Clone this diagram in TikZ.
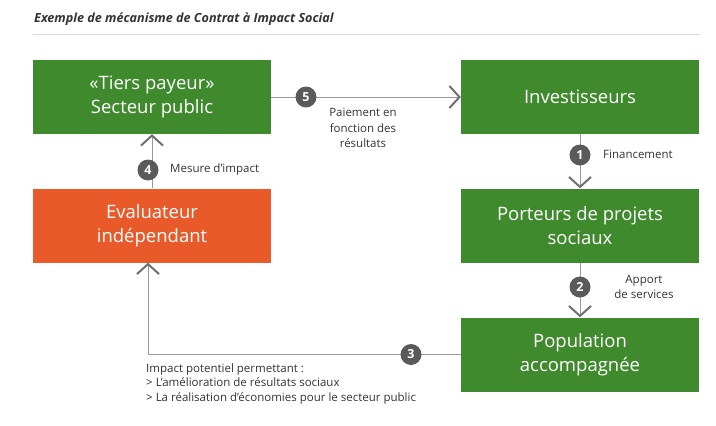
\documentclass[tikz,border=0pt]{standalone}
\usepackage{fontspec}
\setmainfont{Open Sans}
\usetikzlibrary{arrows.meta,positioning}
\definecolor{boxgreen}{HTML}{3F8A2C}
\definecolor{boxorange}{HTML}{E85A2A}
\definecolor{linegray}{HTML}{9A9A9A}
\definecolor{tipgray}{HTML}{707070}
\definecolor{circgray}{HTML}{5A5A5A}
\definecolor{txtgray}{HTML}{333333}
\tikzset{
  stepbox/.style={minimum width=238pt,minimum height=74pt,inner sep=0pt,align=center,
    text=white,font=\fontsize{18.5}{24}\selectfont},
  greenbox/.style={stepbox,fill=boxgreen},
  orangebox/.style={stepbox,fill=boxorange},
  conn/.style={draw=linegray,line width=1pt,
    -{Straight Barb[length=10pt,width=22pt,line width=2pt,color=tipgray]}},
  num/.style={circle,fill=circgray,text=white,inner sep=0pt,minimum size=21pt,
    font=\fontsize{12.5}{12}\selectfont\bfseries},
  lab/.style={text=txtgray,font=\fontsize{11.5}{15.5}\selectfont,inner sep=0pt},
}
\begin{document}
\begin{tikzpicture}[x=1pt,y=-1pt]
\useasboundingbox (0,0) rectangle (716,426);
\node[anchor=base west,text=txtgray,inner sep=0pt,font=\fontsize{12.6}{14}\selectfont\itshape\bfseries] (title) at (34,22) {Exemple de mécanisme de Contrat à Impact Social};
\draw[draw=black!15,line width=0.8pt] (33,34) coordinate (l1) -- (700,34) coordinate (l2);

\node[greenbox] (tiers) at (152,97) {«Tiers payeur»\\Secteur public};
\node[orangebox] (eval) at (152,225.5) {Evaluateur\\indépendant};
\node[greenbox] (inv) at (580,97) {Investisseurs};
\node[greenbox] (port) at (580,225.5) {Porteurs de projets\\sociaux};
\node[greenbox] (pop) at (580,354.5) {Population\\accompagnée};

% 5
\draw[conn] (tiers.east) -- (inv.west);
\node[num] (n5) at (306,97) {5};
\node[lab,align=center,anchor=north] (l5) at (363,108) {Paiement en\\fonction des\\résultats};
% 1
\draw[conn] (inv.south) -- (port.north);
\node[num] (n1) at (580,155) {1};
\node[lab,anchor=west] (l1t) at (603,154) {Financement};
% 2
\draw[conn] (port.south) -- (pop.north);
\node[num] (n2) at (580,287) {2};
\node[lab,align=center] (l2t) at (644,287) {Apport\\de services};
% 4
\draw[conn] (eval.north) -- (tiers.south);
\node[num] (n4) at (148,170) {4};
\node[lab,anchor=west] (l4t) at (170,170) {Mesure d’impact};
% 3
\coordinate (c3) at (148,354.5);
\draw[conn] (pop.west) -- (c3) -- (eval.south -| c3);
\node[num] (n3) at (411,354.5) {3};
\node[lab,align=left,anchor=north west,font=\fontsize{11.5}{14.5}\selectfont] (l3t) at (146,363.5) {Impact potentiel permettant :\\> L’amélioration de résultats sociaux\\> La réalisation d’économies pour le secteur public};
\end{tikzpicture}
\end{document}
